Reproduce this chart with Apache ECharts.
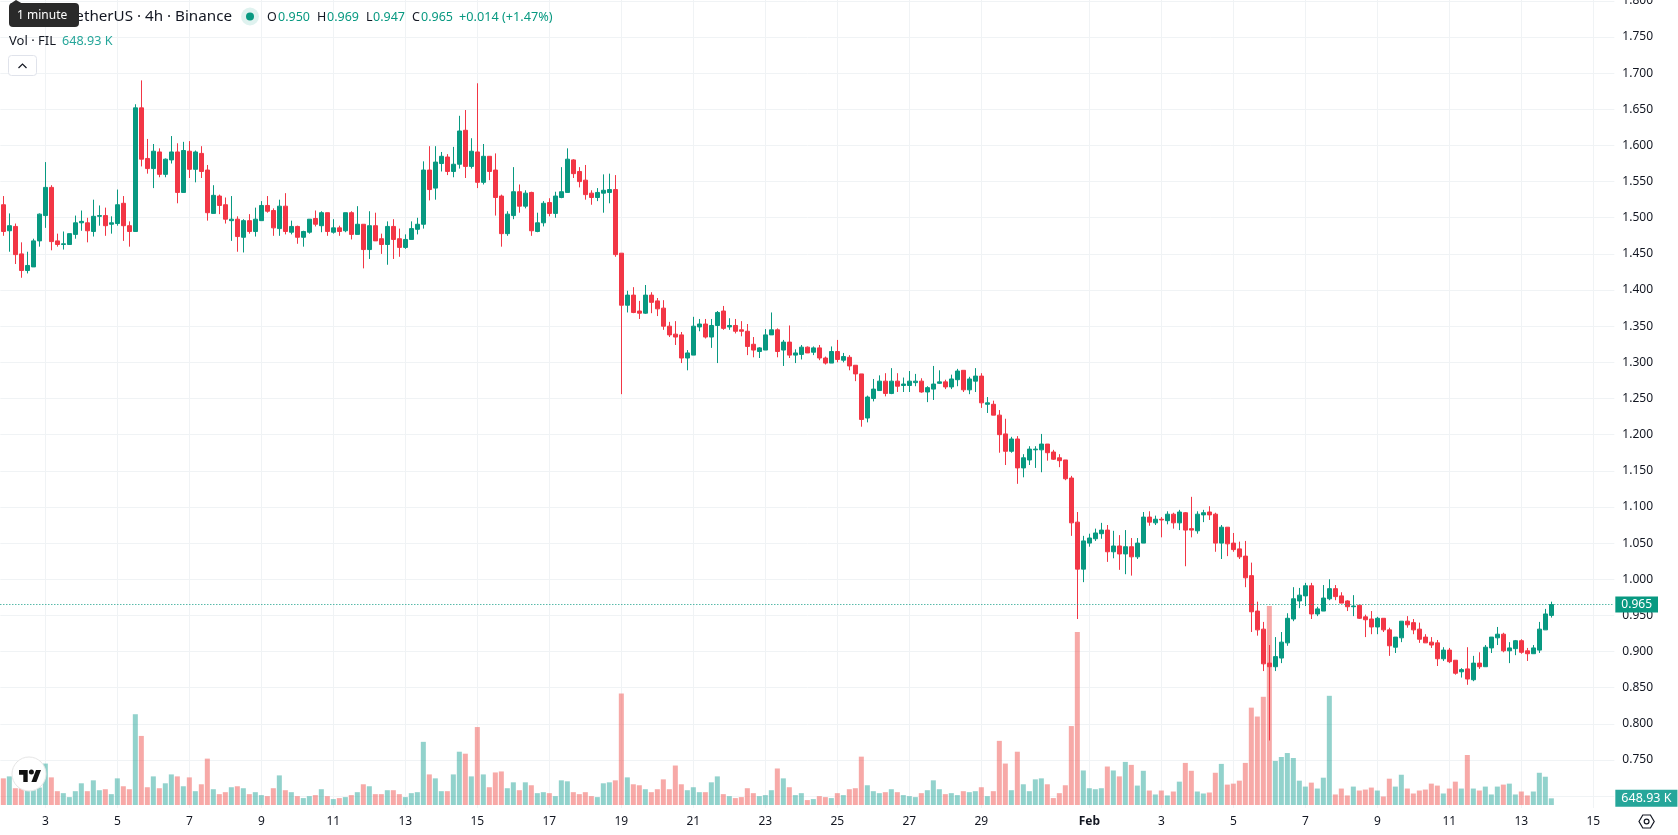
<!DOCTYPE html>
<html>
<head>
<meta charset="utf-8">
<title>FIL / USDT 4h</title>
<style>
  html, body { margin: 0; padding: 0; background: #ffffff; overflow: hidden; }
  #chart { width: 1678px; height: 835px; }
</style>
<script src="https://cdn.jsdelivr.net/npm/echarts@6/dist/echarts.min.js"></script>
</head>
<body>
<div id="chart"></div>
<script>
// 4h FIL/USDT candles, oldest first
const opens = [
  1.518,1.482,1.488,1.450,1.427,1.432,1.468,1.503,1.542,1.468,
  1.463,1.463,1.477,1.493,1.493,1.481,1.502,1.503,1.491,1.492,
  1.520,1.489,1.481,1.652,1.582,1.568,1.591,1.560,1.580,1.591,
  1.535,1.592,1.567,1.589,1.566,1.506,1.530,1.518,1.496,1.498,
  1.473,1.496,1.481,1.496,1.517,1.510,1.485,1.516,1.480,1.488,
  1.473,1.480,1.499,1.489,1.507,1.480,1.486,1.482,1.507,1.477,
  1.491,1.456,1.489,1.471,1.463,1.488,1.471,1.459,1.470,1.484,
  1.491,1.566,1.541,1.575,1.584,1.564,1.574,1.621,1.571,1.591,
  1.549,1.585,1.566,1.530,1.478,1.503,1.536,1.516,1.535,1.481,
  1.493,1.521,1.506,1.528,1.535,1.580,1.564,1.552,1.534,1.528,
  1.534,1.535,1.539,1.451,1.379,1.393,1.371,1.368,1.393,1.385,
  1.375,1.350,1.339,1.338,1.306,1.310,1.349,1.353,1.335,1.351,
  1.371,1.349,1.351,1.345,1.343,1.325,1.315,1.317,1.338,1.345,
  1.317,1.328,1.310,1.311,1.321,1.314,1.320,1.306,1.299,1.315,
  1.303,1.307,1.296,1.284,1.223,1.250,1.261,1.274,1.257,1.274,
  1.268,1.268,1.272,1.274,1.259,1.263,1.271,1.273,1.266,1.276,
  1.289,1.262,1.274,1.281,1.242,1.242,1.227,1.201,1.177,1.194,
  1.154,1.165,1.179,1.179,1.187,1.176,1.168,1.165,1.140,1.079,
  1.014,1.050,1.056,1.063,1.068,1.038,1.046,1.035,1.045,1.031,
  1.050,1.086,1.078,1.083,1.081,1.090,1.078,1.092,1.070,1.067,
  1.089,1.093,1.090,1.050,1.072,1.050,1.042,1.032,1.005,0.956,
  0.931,0.884,0.879,0.891,0.912,0.945,0.970,0.977,0.991,0.952,
  0.956,0.973,0.987,0.977,0.970,0.962,0.964,0.948,0.945,0.934,
  0.946,0.930,0.906,0.919,0.942,0.940,0.931,0.920,0.913,0.912,
  0.890,0.902,0.888,0.872,0.876,0.861,0.884,0.879,0.905,0.919,
  0.924,0.901,0.904,0.915,0.901,0.897,0.902,0.930,0.950
];
const highs = [
  1.530,1.506,1.492,1.466,1.453,1.471,1.506,1.577,1.545,1.478,
  1.481,1.478,1.503,1.510,1.500,1.525,1.517,1.514,1.502,1.539,
  1.530,1.495,1.657,1.690,1.609,1.602,1.596,1.582,1.613,1.603,
  1.605,1.606,1.593,1.599,1.573,1.545,1.532,1.528,1.530,1.502,
  1.498,1.505,1.514,1.523,1.530,1.513,1.525,1.534,1.496,1.489,
  1.482,1.498,1.510,1.509,1.507,1.498,1.489,1.507,1.509,1.516,
  1.491,1.509,1.507,1.478,1.495,1.498,1.485,1.477,1.495,1.500,
  1.578,1.599,1.599,1.591,1.588,1.598,1.641,1.649,1.610,1.686,
  1.602,1.585,1.589,1.532,1.509,1.570,1.546,1.538,1.536,1.507,
  1.523,1.527,1.536,1.570,1.596,1.581,1.570,1.573,1.538,1.541,
  1.560,1.561,1.559,1.451,1.399,1.404,1.385,1.407,1.397,1.389,
  1.386,1.356,1.357,1.342,1.317,1.363,1.360,1.360,1.360,1.371,
  1.378,1.361,1.360,1.357,1.353,1.335,1.321,1.346,1.369,1.347,
  1.331,1.351,1.318,1.324,1.322,1.322,1.324,1.308,1.322,1.331,
  1.313,1.310,1.296,1.284,1.254,1.277,1.282,1.285,1.292,1.285,
  1.279,1.288,1.284,1.278,1.267,1.295,1.289,1.276,1.283,1.291,
  1.289,1.280,1.292,1.285,1.252,1.247,1.234,1.222,1.197,1.198,
  1.173,1.184,1.184,1.201,1.187,1.179,1.173,1.165,1.143,1.093,
  1.060,1.063,1.070,1.078,1.075,1.067,1.061,1.068,1.057,1.057,
  1.093,1.094,1.088,1.086,1.094,1.092,1.096,1.093,1.114,1.094,
  1.096,1.101,1.092,1.075,1.072,1.064,1.052,1.053,1.023,0.969,
  0.941,0.909,0.920,0.927,0.953,0.989,0.988,0.995,0.995,0.962,
  0.992,1.000,0.992,0.982,0.971,0.978,0.964,0.951,0.956,0.948,
  0.946,0.933,0.920,0.942,0.949,0.945,0.940,0.924,0.920,0.916,
  0.906,0.905,0.888,0.877,0.906,0.894,0.899,0.909,0.920,0.934,
  0.926,0.913,0.916,0.917,0.905,0.909,0.941,0.959,0.969
];
const lows = [
  1.475,1.453,1.436,1.417,1.423,1.432,1.460,1.486,1.455,1.460,
  1.456,1.463,1.471,1.482,1.466,1.474,1.489,1.475,1.478,1.489,
  1.468,1.460,1.481,1.571,1.561,1.541,1.556,1.556,1.575,1.520,
  1.535,1.555,1.549,1.555,1.496,1.506,1.505,1.492,1.468,1.453,
  1.452,1.478,1.474,1.496,1.507,1.475,1.475,1.477,1.477,1.464,
  1.460,1.478,1.488,1.480,1.475,1.478,1.475,1.480,1.470,1.477,
  1.430,1.443,1.468,1.450,1.435,1.443,1.446,1.457,1.470,1.477,
  1.485,1.524,1.525,1.564,1.559,1.556,1.568,1.555,1.568,1.541,
  1.546,1.552,1.503,1.460,1.475,1.498,1.507,1.513,1.475,1.480,
  1.488,1.502,1.500,1.527,1.535,1.555,1.542,1.525,1.518,1.523,
  1.507,1.520,1.446,1.256,1.369,1.368,1.360,1.367,1.368,1.364,
  1.345,1.335,1.324,1.299,1.289,1.310,1.343,1.333,1.320,1.299,
  1.345,1.345,1.340,1.336,1.310,1.307,1.306,1.317,1.338,1.307,
  1.295,1.306,1.299,1.304,1.313,1.310,1.303,1.297,1.299,1.300,
  1.300,1.289,1.274,1.211,1.217,1.246,1.261,1.253,1.256,1.259,
  1.259,1.259,1.267,1.258,1.245,1.248,1.270,1.263,1.263,1.267,
  1.259,1.256,1.259,1.237,1.230,1.227,1.175,1.158,1.175,1.132,
  1.141,1.158,1.154,1.148,1.164,1.165,1.155,1.137,1.060,0.945,
  0.996,1.045,1.053,1.056,1.024,1.029,1.013,1.007,1.005,1.028,
  1.050,1.074,1.075,1.058,1.076,1.070,1.068,1.018,1.058,1.063,
  1.079,1.082,1.038,1.028,1.032,1.038,1.028,0.989,0.927,0.922,
  0.873,0.777,0.873,0.884,0.908,0.942,0.960,0.963,0.945,0.949,
  0.956,0.971,0.971,0.967,0.956,0.949,0.945,0.920,0.924,0.924,
  0.927,0.894,0.898,0.913,0.933,0.924,0.912,0.912,0.905,0.880,
  0.887,0.884,0.868,0.864,0.854,0.859,0.876,0.879,0.898,0.909,
  0.899,0.884,0.895,0.897,0.887,0.897,0.898,0.930,0.947
];
const closes = [
  1.481,1.489,1.449,1.427,1.434,1.468,1.505,1.542,1.467,1.463,
  1.464,1.478,1.493,1.495,1.482,1.502,1.503,1.489,1.493,1.518,
  1.489,1.481,1.652,1.581,1.568,1.592,1.560,1.581,1.591,1.535,
  1.593,1.567,1.591,1.564,1.507,1.531,1.517,1.498,1.498,1.474,
  1.496,1.481,1.498,1.517,1.509,1.486,1.516,1.481,1.488,1.473,
  1.481,1.498,1.491,1.507,1.481,1.486,1.481,1.507,1.477,1.491,
  1.456,1.489,1.468,1.463,1.488,1.470,1.459,1.470,1.485,1.491,
  1.566,1.539,1.577,1.585,1.564,1.574,1.620,1.571,1.592,1.549,
  1.585,1.564,1.528,1.478,1.505,1.536,1.516,1.534,1.482,1.493,
  1.520,1.506,1.530,1.536,1.581,1.561,1.550,1.532,1.528,1.535,
  1.538,1.539,1.449,1.379,1.393,1.369,1.368,1.393,1.383,1.374,
  1.350,1.338,1.335,1.306,1.313,1.350,1.353,1.335,1.351,1.369,
  1.347,1.351,1.343,1.343,1.322,1.317,1.320,1.338,1.345,1.315,
  1.328,1.310,1.313,1.321,1.313,1.320,1.306,1.299,1.315,1.304,
  1.308,1.295,1.284,1.221,1.252,1.263,1.274,1.257,1.274,1.267,
  1.270,1.274,1.274,1.259,1.265,1.270,1.273,1.266,1.277,1.288,
  1.262,1.277,1.281,1.244,1.244,1.227,1.200,1.177,1.194,1.154,
  1.168,1.180,1.180,1.187,1.175,1.166,1.164,1.139,1.078,1.014,
  1.053,1.057,1.064,1.068,1.038,1.046,1.035,1.045,1.031,1.050,
  1.086,1.079,1.083,1.082,1.090,1.078,1.093,1.068,1.068,1.090,
  1.092,1.089,1.050,1.072,1.049,1.041,1.031,1.002,0.955,0.930,
  0.883,0.879,0.893,0.913,0.946,0.973,0.978,0.991,0.952,0.959,
  0.974,0.987,0.976,0.967,0.962,0.963,0.946,0.944,0.934,0.946,
  0.930,0.908,0.920,0.942,0.937,0.930,0.917,0.912,0.909,0.890,
  0.902,0.886,0.870,0.875,0.862,0.884,0.879,0.906,0.920,0.924,
  0.901,0.905,0.915,0.899,0.897,0.905,0.931,0.952,0.965
];
// Traded volume per candle, in thousands of FIL
const volumes = [
  2592,2784,1632,1632,1440,1440,1700,4032,2688,1344,
  1152,768,1344,2112,1344,2400,1440,1536,1056,2592,
  1824,1536,8832,6720,1728,2784,1632,2112,2976,2784,
  1824,2688,1344,2016,4512,1536,1056,1248,1728,1824,
  1632,1056,1248,960,864,1632,2880,1440,1248,864,
  672,864,960,1536,864,576,672,768,960,1248,
  2016,1824,1056,1056,1440,1440,1056,768,1152,1248,
  6144,2976,2592,1344,1344,2976,5184,4992,2784,7584,
  2976,1728,3168,3264,1632,2208,1440,2208,1920,1152,
  1248,1152,864,2400,2304,1248,1056,1248,864,768,
  2112,2208,2400,10848,2688,2016,1920,1536,1248,1536,
  2496,1536,3840,2016,1440,1728,1248,1248,2208,2784,
  1056,864,672,768,1632,1152,864,960,1440,3552,
  2592,1728,960,1152,480,576,864,768,672,1152,
  960,1536,1632,4704,1920,1344,1152,1248,1536,1248,
  960,864,768,1152,1440,2400,1536,1056,1152,960,
  1344,1248,1344,1728,864,1344,6240,4032,1440,5184,
  2016,1344,2496,2592,2016,672,1152,1920,7680,16832,
  3360,1632,1536,1632,3744,3360,2784,4192,3904,1888,
  3328,1408,1024,1408,928,1312,2272,4096,3328,1312,
  1120,1216,3136,4000,1984,2080,2368,4096,9472,8608,
  10528,19360,4288,4672,5056,4576,2368,1792,2176,1600,
  2656,10624,1024,1600,928,1792,1408,1504,1696,1408,
  832,2560,1792,2944,1600,1120,1408,1504,2080,1888,
  1120,1600,2272,1600,4864,1600,1408,1792,1024,1792,
  1984,2080,1024,1312,928,1312,3136,2752,648.93
];
// Candle slots on the time axis, including the empty room after the last candle
const slotCount = 269;
const categories = Array.from({ length: slotCount }, (_, i) => 'slot' + i);
// Slots holding a date label, and the labels themselves
const tickSlots = [7,19,31,43,55,67,79,91,103,115,127,139,151,163,181,193,205,217,229,241,253,265];
const tickLabels = ['3','5','7','9','11','13','15','17','19','21','23','25','27','29','Feb','3','5','7','9','11','13','15'];
const lastClose = closes[closes.length - 1];
const lastVolume = volumes[volumes.length - 1];

const UP = '#089981', DOWN = '#F23645';
const FONT = '"Noto Sans"';
const isTick = (i) => tickSlots.includes(i);

const chart = echarts.init(document.getElementById('chart'), null, { renderer: 'canvas' });

const hText = (x, y, text, fill, size, extra) => ({
  type: 'text', z: 100, silent: true,
  style: Object.assign({ x, y, text, fill, font: `${size}px ${FONT}`, verticalAlign: 'middle' }, extra || {})
});

chart.setOption({
  animation: false,
  backgroundColor: '#ffffff',
  grid: [
    { left: 0.33, width: 1614, top: 0.85, height: 795.3, containLabel: false, outerBoundsMode: 'none' },
    { left: 0.33, width: 1614, top: 0, height: 808, containLabel: false, outerBoundsMode: 'none' }
  ],
  xAxis: [
    { type: 'category', gridIndex: 0, data: categories, show: false },
    {
      type: 'category', gridIndex: 1, data: categories,
      axisLine: { show: false }, axisTick: { show: false },
      axisLabel: {
        interval: (i) => isTick(i),
        margin: 8, color: '#131722', fontFamily: FONT, fontSize: 12,
        formatter: (v, i) => {
          const label = tickLabels[tickSlots.indexOf(i)];
          return label === 'Feb' ? '{month|Feb}' : label;
        },
        rich: { month: { fontWeight: 'bold', color: '#131722', fontFamily: FONT, fontSize: 12 } }
      },
      splitLine: {
        show: true, alignWithLabel: true,
        interval: (i) => isTick(i),
        lineStyle: { color: '#f0f3f5', width: 1 }
      }
    }
  ],
  yAxis: [
    {
      type: 'value', gridIndex: 0, position: 'right', min: 0.7, max: 1.8, interval: 0.05, scale: true,
      axisLine: { show: false }, axisTick: { show: false },
      axisLabel: {
        margin: 8, color: '#131722', fontFamily: FONT, fontSize: 12,
        showMinLabel: true, showMaxLabel: true,
        formatter: (v) => (v < 0.74 ? '' : v.toFixed(3))
      },
      splitLine: { show: true, lineStyle: { color: '#f0f3f5', width: 1 } }
    },
    {
      type: 'value', gridIndex: 1, min: -292, max: 78326, show: false,
      splitLine: { show: false }
    }
  ],
  series: [
    {
      name: 'Volume', type: 'bar', xAxisIndex: 1, yAxisIndex: 1, z: 1,
      barWidth: 5,
      data: volumes.map((v, i) => ({
        value: v,
        itemStyle: { color: closes[i] >= opens[i] ? 'rgba(38,166,154,0.5)' : 'rgba(239,83,80,0.5)' }
      })),
      markLine: {
        silent: true, symbol: 'none', animation: false, precision: 2,
        lineStyle: { color: 'rgba(0,0,0,0)', width: 0 },
        label: {
          position: 'end', distance: 1, formatter: () => lastVolume.toFixed(2) + ' K',
          color: '#ffffff', backgroundColor: '#26a69a', fontFamily: FONT, fontSize: 12.5,
          opacity: 1, padding: [2, 6, 2, 6]
        },
        data: [{ yAxis: lastVolume }]
      }
    },
    {
      name: 'FILUSDT', type: 'candlestick', xAxisIndex: 0, yAxisIndex: 0, z: 3,
      barWidth: 4,
      itemStyle: { color: UP, color0: DOWN, borderColor: UP, borderColor0: DOWN, borderWidth: 1 },
      data: opens.map((o, i) => [o, closes[i], lows[i], highs[i]]),
      markLine: {
        silent: true, symbol: 'none', animation: false, precision: 3,
        lineStyle: { color: UP, type: [1, 2], width: 1 },
        label: {
          position: 'end', distance: 1, formatter: () => lastClose.toFixed(3),
          color: '#ffffff', backgroundColor: UP, fontFamily: FONT, fontSize: 12,
          padding: [2, 6, 2, 6]
        },
        data: [{ yAxis: lastClose }]
      }
    }
  ],
  graphic: { elements: [
    // Legend rows
    hText(232, 17, 'FIL / TetherUS · 4h · Binance', '#131722', 15.2, { align: 'right' }),
    { type: 'circle', z: 100, silent: true, shape: { cx: 250, cy: 16.5, r: 9 }, style: { fill: 'rgba(8,153,129,0.13)' } },
    { type: 'circle', z: 100, silent: true, shape: { cx: 250, cy: 16.5, r: 4 }, style: { fill: UP } },
    hText(267, 17, 'O', '#131722', 12.5), hText(278, 17, '0.950', UP, 12.5),
    hText(317, 17, 'H', '#131722', 12.5), hText(327, 17, '0.969', UP, 12.5),
    hText(366, 17, 'L', '#131722', 12.5), hText(373, 17, '0.947', UP, 12.5),
    hText(412, 17, 'C', '#131722', 12.5), hText(421, 17, '0.965', UP, 12.5),
    hText(459, 17, '+0.014 (+1.47%)', UP, 12.7),
    hText(9, 41, 'Vol · FIL', '#131722', 13),
    hText(62, 41, '648.93 K', '#26a69a', 12.6),
    // Collapse button
    { type: 'rect', z: 100, silent: true, shape: { x: 8.5, y: 55.5, width: 28, height: 20, r: 3 }, style: { fill: '#ffffff', stroke: '#e0e3eb', lineWidth: 1 } },
    { type: 'polyline', z: 101, silent: true, shape: { points: [[18.5, 68], [22.5, 64], [26.5, 68]] }, style: { stroke: '#131722', lineWidth: 1.2, fill: null } },
    // Hover tooltip above the symbol name
    { type: 'rect', z: 102, silent: true, shape: { x: 9, y: 3, width: 70, height: 24, r: 4 }, style: { fill: '#2a2a2a' } },
    { type: 'polygon', z: 102, silent: true, shape: { points: [[10, 4], [16, 0], [23, 4]] }, style: { fill: '#2a2a2a' } },
    Object.assign(hText(17, 15.5, '1 minute', '#ffffff', 12), { z: 103 }),
    // Watermark badge
    { type: 'circle', z: 100, silent: true, shape: { cx: 29, cy: 774, r: 17 }, style: { fill: 'rgba(255,255,255,0.96)', stroke: '#e6e6e6', lineWidth: 1 } },
    { type: 'polygon', z: 101, silent: true, shape: { points: [[27.7, 782], [23.3, 782], [23.3, 774.7], [19, 774.7], [19, 770], [27.7, 770]] }, style: { fill: '#111111' } },
    { type: 'polygon', z: 101, silent: true, shape: { points: [[36.4, 782], [31.4, 782], [36, 770], [41, 770]] }, style: { fill: '#111111' } },
    { type: 'circle', z: 101, silent: true, shape: { cx: 31.4, cy: 772, r: 2.5 }, style: { fill: '#111111' } },
    // Chart settings icon
    { type: 'polygon', z: 100, silent: true, shape: { points: [[1639, 821.5], [1642.8, 815], [1650.4, 815], [1654.2, 821.5], [1650.4, 828], [1642.8, 828]] }, style: { fill: null, stroke: '#131722', lineWidth: 1.2 } },
    { type: 'circle', z: 100, silent: true, shape: { cx: 1646.6, cy: 821.5, r: 2.4 }, style: { fill: null, stroke: '#131722', lineWidth: 1.2 } }
  ] }
});
</script>
</body>
</html>
